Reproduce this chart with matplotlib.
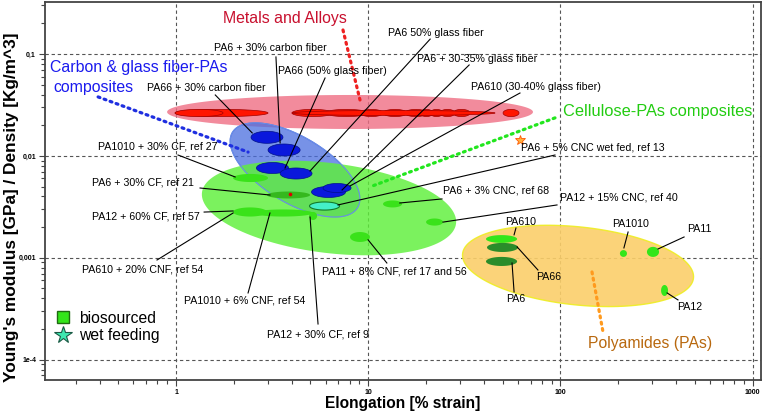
import numpy as np
import matplotlib.pyplot as plt
from matplotlib.lines import Line2D
from matplotlib.ticker import FixedLocator, FixedFormatter, LogLocator, NullFormatter

plt.rcParams['font.family'] = ['Liberation Sans', 'DejaVu Sans']

# ---- data (elongation in %, specific modulus in GPa/(kg/m^3)) ----
# property ranges: elongation lo/hi, modulus lo/hi
metals_range = (0.898, 72.0, 0.01837, 0.0396)
metal_xlo = [0.988, 0.988, 4.01, 5.96, 9.06, 11.94, 15.5, 18.6, 21.0, 23.6, 27.6, 4.01, 50.3]
metal_xhi = [3.01, 1.756, 6.56, 9.98, 11.94, 15.9, 20.2, 21.7, 24.5, 28.3, 33.9, 45.7, 60.9]
metal_ylo = [0.0243] * 11 + [0.0249, 0.0243]
metal_yhi = [0.0286] * 11 + [0.0279, 0.0286]

cf_xlo = [2.455, 3.01, 2.62, 3.48, 5.07, 5.82]
cf_xhi = [3.60, 4.42, 3.85, 5.10, 7.62, 8.14]
cf_ylo = [0.01329, 0.00998, 0.00672, 0.00593, 0.00391, 0.00437]
cf_yhi = [0.01743, 0.01308, 0.00861, 0.00761, 0.00501, 0.00536]

cel_xlo = [1.98, 2.97, 1.98, 2.52, 4.92, 11.94, 20.0, 8.04]
cel_xhi = [3.01, 4.98, 2.97, 5.16, 5.42, 15.0, 24.5, 10.2]
cel_ylo = [0.00554, 0.00382, 0.00254, 0.00254, 0.00235, 0.00312, 0.00207, 0.00143]
cel_yhi = [0.00665, 0.00447, 0.00312, 0.00298, 0.00282, 0.00365, 0.00243, 0.00179]
cel_dark = [False, True, False, False, False, False, False, False]

wet_range = (4.95, 7.09, 0.00294, 0.00353)

pa_names = ['PA610', 'PA66', 'PA6', 'PA1010', 'PA11', 'PA12']
pa_xlo = [41.0, 41.5, 41.0, 204, 282, 334]
pa_xhi = [59.5, 60.2, 59.5, 222, 326, 363]
pa_ylo = [0.00140, 0.00114, 0.000831, 0.00102, 0.00102, 0.000422]
pa_yhi = [0.00167, 0.00140, 0.00102, 0.00119, 0.00128, 0.000541]
pa_bio = [True, False, False, True, True, True]

# tilted family envelopes: centre (elongation, modulus)
cf_centre = (4.16, 0.00728)
cel_centre = (6.25, 0.00308)
pa_centre = (123.5, 0.000832)

star_pt = (61.6, 0.0143)
red_dot = (3.92, 0.00422)

x_ticks = [1, 10, 100, 1000]
x_ticklabels = ['1', '10', '100', '1000']
y_ticks = [1e-4, 1e-3, 1e-2, 1e-1]
y_ticklabels = ['1e-4', '0,001', '0,01', '0,1']

# label text, text centre, leader start, leader end
notes = [
    ("PA66 + 30% carbon fiber", (1.43, 0.0463), (1.60, 0.0396), (2.49, 0.0168)),
    ("PA6 + 30% carbon fiber", (3.08, 0.1145), (3.31, 0.0935), (3.48, 0.0134)),
    ("PA66 (50% glass fiber)", (6.52, 0.0681), (5.96, 0.0581), (3.69, 0.0076)),
    ("PA6 50% glass fiber", (22.4, 0.1607), (21.0, 0.140), (4.98, 0.00711)),
    ("PA6 + 30-35% glass fiber", (36.8, 0.0893), (33.5, 0.0780), (7.31, 0.00463)),
    ("PA610 (30-40% glass fiber)", (74.2, 0.0474), (61.6, 0.0414), (8.04, 0.00507)),
    ("PA1010 + 30% CF, ref 27", (0.801, 0.0125), (1.024, 0.0102), (2.03, 0.00621)),
    ("PA6 + 30% CF, ref 21", (0.670, 0.00554), (1.333, 0.00484), (3.08, 0.00413)),
    ("PA12 + 60% CF, ref 57", (0.698, 0.00257), (1.40, 0.00281), (1.98, 0.00288)),
    ("PA610 + 20% CNF, ref 54", (0.670, 0.000776), (0.796, 0.000951), (1.98, 0.00275)),
    ("PA1010 + 6% CNF, ref 54", (2.27, 0.000377), (2.37, 0.000452), (3.08, 0.00275)),
    ("PA12 + 30% CF, ref 9", (5.51, 0.000175), (5.48, 0.000224), (4.98, 0.00251)),
    ("PA11 + 8% CNF, ref 17 and 56", (13.7, 0.000741), (12.5, 0.000889), (9.98, 0.00150)),
    ("PA6 + 3% CNC, ref 68", (46.2, 0.00453), (24.2, 0.00378), (14.6, 0.00345)),
    ("PA12 + 15% CNC, ref 40", (201.8, 0.00387), (96.0, 0.00330), (24.5, 0.00224)),
    ("PA6 + 5% CNC wet fed, ref 13", (147.8, 0.01222), (93.7, 0.0102), (6.96, 0.00330)),
    ("PA610", (62.0, 0.00224), (58.7, 0.00196), (57.4, 0.00168)),
    ("PA66", (86.7, 0.000649), (76.4, 0.000759), (59.5, 0.00128)),
    ("PA6", (58.7, 0.000395), (57.4, 0.000462), (56.0, 0.000889)),
    ("PA1010", (233, 0.00215), (225, 0.00179), (214, 0.00125)),
    ("PA11", (530, 0.00192), (440, 0.00160), (322, 0.00122)),
    ("PA12", (470, 0.000329), (409, 0.000386), (359, 0.000452)),
]

fig = plt.figure(figsize=(7.67, 4.17), dpi=100)
ax = fig.add_axes([45 / 767, 37 / 417, 716 / 767, 378 / 417])
ax.set_xscale('log')
ax.set_yscale('log')
ax.set_xlim(0.208, 1106)
ax.set_ylim(6.32e-5, 0.3237)

# pixel per decade ratio, so tilted ellipses look right on screen
xdec = np.log10(1106 / 0.208)
ydec = np.log10(0.3237 / 6.32e-5)
K = (378 / ydec) / (716 / xdec)

t = np.linspace(0, 2 * np.pi, 150)


def blob(xlo, xhi, ylo, yhi, **kw):
    cx = np.log10(xlo * xhi) / 2
    cy = np.log10(ylo * yhi) / 2
    a = np.log10(xhi / xlo) / 2
    b = np.log10(yhi / ylo) / 2
    ax.fill(10 ** (cx + a * np.cos(t)), 10 ** (cy + b * np.sin(t)), **kw)


def tilted(centre, a, b, ang, **kw):
    th = np.deg2rad(ang)
    u = a * np.cos(t) * np.cos(th) - b * np.sin(t) * np.sin(th)
    v = a * np.cos(t) * np.sin(th) + b * np.sin(t) * np.cos(th)
    ax.fill(centre[0] * 10 ** u, centre[1] * 10 ** (v / K), **kw)


# family envelopes
blob(*metals_range, fc='#ef6e84', ec='none', alpha=0.8, zorder=1)
tilted(pa_centre, 0.604, 0.203, -6, fc='#fbcf6a', ec='#eeee22', lw=1, alpha=0.9, zorder=1)
tilted(cf_centre, 0.38, 0.172, -31, fc='#4a6ee0', ec='#3a5ed8', lw=0.8, alpha=0.75, zorder=1)
tilted(cel_centre, 0.666, 0.234, -7, fc='#5ef03a', ec='none', alpha=0.82, zorder=1.1)
tilted(cf_centre, 0.38, 0.172, -31, fc='none', ec='#6a8ee8', lw=0.8, zorder=1.2)

# individual materials
for i in range(len(metal_xlo)):
    blob(metal_xlo[i], metal_xhi[i], metal_ylo[i], metal_yhi[i],
         fc='#ff1500', ec='#a00000', lw=0.5, zorder=2)
for i in range(len(cel_xlo)):
    blob(cel_xlo[i], cel_xhi[i], cel_ylo[i], cel_yhi[i],
         fc='#35b81e' if cel_dark[i] else '#3ae21a', ec='none', zorder=2)
for i in range(len(cf_xlo)):
    blob(cf_xlo[i], cf_xhi[i], cf_ylo[i], cf_yhi[i],
         fc='#0a18dc', ec='#00108a', lw=0.5, zorder=2.2)
blob(*wet_range, fc='#44f0c8', ec='#127a2a', lw=0.8, zorder=2.3)
for i in range(len(pa_xlo)):
    blob(pa_xlo[i], pa_xhi[i], pa_ylo[i], pa_yhi[i],
         fc='#33e61a' if pa_bio[i] else '#2a8c2a', ec='none', zorder=2)

ax.plot(*red_dot, 'o', ms=1.6, color='#e00000', zorder=3)
ax.plot(*star_pt, '*', ms=7, mfc='#ffb040', mec='#ff5a00', mew=0.6, zorder=3)

# leader lines and labels
for txt, pos, p0, p1 in notes:
    ax.plot([p0[0], p1[0]], [p0[1], p1[1]], color='black', lw=0.8, zorder=3)
    ax.text(pos[0], pos[1], txt, fontsize=7.7, ha='center', va='center', zorder=4)

# family names with dotted pointers
dot = dict(ls=(0, (0.6, 1.4)), lw=2.3, dash_capstyle='round', zorder=3)
ax.plot([7.39, 9.06], [0.172, 0.0354], color='#ee2020', **dot)
ax.plot([0.393, 2.37], [0.0379, 0.0109], color='#1f2fe0', **dot)
ax.plot([93.7, 10.2], [0.0236, 0.00496], color='#22e61e', **dot)
ax.plot([146, 166.6], [0.000726, 0.000187], color='#ff9a1e', **dot)

ax.text(3.69, 0.2254, 'Metals and Alloys', fontsize=11.4, color='#c8102e', ha='center', va='center')
ax.text(0.221, 0.0745, 'Carbon & glass fiber-PAs', fontsize=11.4, color='#1a1aee', ha='left', va='center')
ax.text(0.229, 0.0474, 'composites', fontsize=11.4, color='#1a1aee', ha='left', va='center')
ax.text(103.2, 0.0270, 'Cellulose-PAs composites', fontsize=11.8, color='#22cc11', ha='left', va='center')
ax.text(294, 0.000143, 'Polyamides (PAs)', fontsize=11.3, color='#b8680e', ha='center', va='center')

# legend
h1 = Line2D([], [], marker='s', ls='none', ms=8, mfc='#33e61a', mec='#1f6b12', mew=1)
h2 = Line2D([], [], marker='*', ls='none', ms=13, mfc='#3ee8b0', mec='#1a5a44', mew=0.8)
ax.legend([h1, h2], ['biosourced', 'wet feeding'], loc='center left',
          bbox_to_anchor=(0.0145, 0.140), frameon=False, fontsize=11.3,
          handlelength=1, handletextpad=0.5, borderpad=0, borderaxespad=0,
          labelspacing=0.15)

# axes styling
ax.grid(True, which='major', ls=(0, (3, 2.5)), color='#555555', lw=0.8)
ax.set_axisbelow(True)
ax.xaxis.set_major_locator(FixedLocator(x_ticks))
ax.xaxis.set_major_formatter(FixedFormatter(x_ticklabels))
ax.yaxis.set_major_locator(FixedLocator(y_ticks))
ax.yaxis.set_major_formatter(FixedFormatter(y_ticklabels))
ax.xaxis.set_minor_locator(LogLocator(base=10, subs=range(2, 10), numticks=20))
ax.yaxis.set_minor_locator(LogLocator(base=10, subs=range(2, 10), numticks=20))
ax.xaxis.set_minor_formatter(NullFormatter())
ax.yaxis.set_minor_formatter(NullFormatter())
ax.tick_params(which='both', direction='out', color='#444444', width=0.8)
ax.tick_params(which='major', length=4, labelsize=5, pad=2.5)
ax.tick_params(which='minor', length=3)
for lab in ax.get_xticklabels() + ax.get_yticklabels():
    lab.set_fontweight('bold')
for s in ax.spines.values():
    s.set_color('#444444')
    s.set_linewidth(1.3)

ax.set_xlabel('Elongation [% strain]', fontsize=11.2, fontweight='bold')
ax.xaxis.set_label_coords(0.5, -0.042)
ax.set_ylabel("Young's modulus [GPa] / Density [Kg/m^3]", fontsize=12.4, fontweight='bold')
ax.yaxis.set_label_coords(-0.036, 0.456)

fig.savefig('out.png', dpi=100)
